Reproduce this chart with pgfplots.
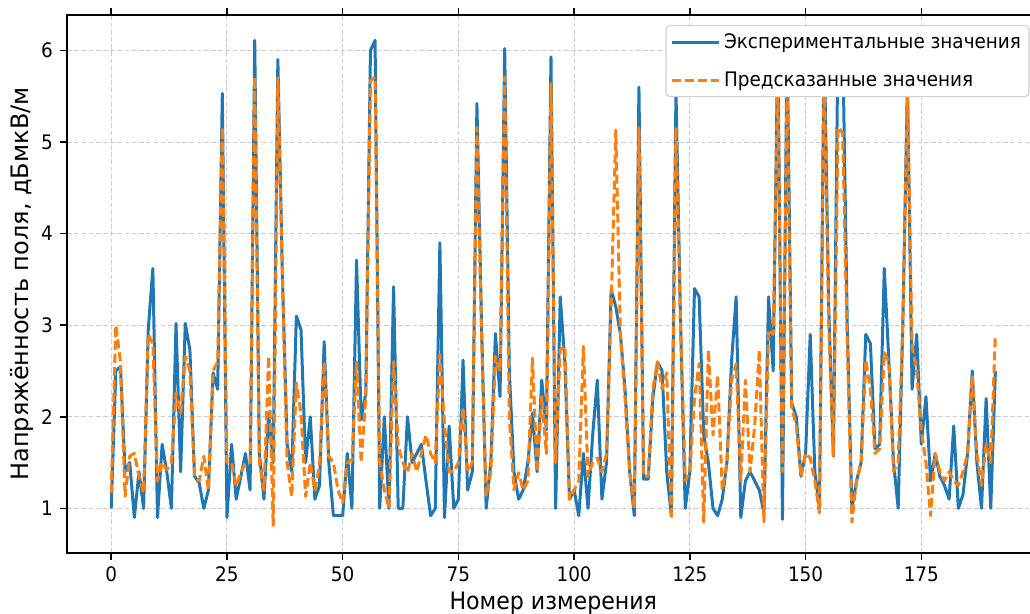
\documentclass[border=0pt]{standalone}
\usepackage{fontspec}
\setmainfont[FakeStretch=0.92]{DejaVu Sans}
\newfontfamily\ylabfont{DejaVu Sans}
\usepackage{pgfplots}
\usepackage{pgfplotstable}
\pgfplotsset{compat=1.18}
\definecolor{mplblue}{HTML}{1F77B4}
\definecolor{mplorange}{HTML}{FF7F0E}

\pgfplotstableread{
x b o
0 1.0 1.17
1 2.5 3.0
2 2.55 2.6
3 1.4 1.13
4 1.5 1.57
5 0.9 1.6
6 1.4 1.35
7 1.0 1.17
8 2.95 2.9
9 3.62 2.8
10 0.9 1.3
11 1.7 1.5
12 1.4 1.42
13 1.0 1.5
14 3.02 2.26
15 1.4 2.04
16 3.02 2.66
17 2.73 2.5
18 1.35 1.35
19 1.28 1.3
20 1.0 1.57
21 1.2 1.2
22 2.48 2.5
23 2.3 2.6
24 5.53 5.16
25 0.9 1.5
26 1.7 1.5
27 1.1 1.24
28 1.35 1.39
29 1.6 1.5
30 1.2 1.5
31 6.11 5.71
32 1.6 1.5
33 1.1 1.2
34 2.04 2.66
35 1.5 0.8
36 5.9 5.7
37 3.5 3.5
38 1.7 1.5
39 1.4 1.13
40 3.1 2.37
41 2.95 2.04
42 1.5 1.13
43 2.0 1.5
44 1.1 1.2
45 1.25 1.46
46 2.82 2.6
47 1.5 1.57
48 0.92 1.5
49 0.92 1.2
50 0.92 1.06
51 1.6 1.5
52 1.0 1.53
53 3.71 2.6
54 1.97 1.5
55 2.26 2.22
56 6.0 5.67
57 6.11 5.71
58 1.0 1.5
59 2.0 1.2
60 1.0 1.0
61 3.42 2.6
62 1.0 1.68
63 1.0 1.5
64 2.0 1.39
65 1.5 1.6
66 1.6 1.4
67 1.7 1.6
68 1.3 1.8
69 0.92 1.6
70 1.0 1.5
71 3.9 2.68
72 0.9 1.9
73 1.9 1.4
74 1.0 1.4
75 1.1 1.5
76 2.62 2.1
77 1.2 1.4
78 1.4 1.5
79 5.42 5.16
80 3.0 2.9
81 1.0 1.13
82 1.5 1.4
83 2.91 2.66
84 2.22 2.5
85 6.02 5.71
86 2.5 2.0
87 1.4 1.2
88 1.1 1.39
89 1.2 1.2
90 1.5 1.3
91 2.04 2.64
92 1.4 1.4
93 2.4 2.22
94 1.86 1.6
95 5.93 5.64
96 1.0 1.5
97 3.31 2.73
98 2.6 2.77
99 1.1 1.1
100 1.2 1.2
101 0.92 1.3
102 1.6 2.77
103 1.0 1.35
104 1.8 1.5
105 2.4 1.55
106 1.1 1.4
107 1.5 1.6
108 3.39 3.2
109 3.2 5.13
110 2.9 2.9
111 2.3 2.2
112 1.4 1.4
113 0.92 1.0
114 5.6 5.16
115 1.32 1.35
116 1.32 1.35
117 2.2 2.3
118 2.6 2.6
119 2.5 2.3
120 1.4 2.48
121 0.92 0.88
122 5.56 5.16
123 3.0 3.0
124 1.0 1.3
125 1.4 1.4
126 3.4 2.2
127 3.31 2.58
128 1.8 0.85
129 1.5 2.73
130 1.0 1.8
131 0.92 2.45
132 1.1 1.2
133 1.5 1.5
134 2.6 2.4
135 3.31 2.58
136 0.9 1.3
137 1.3 2.4
138 1.4 1.4
139 1.3 1.9
140 1.2 2.73
141 0.95 0.85
142 3.31 2.95
143 2.5 2.9
144 6.15 5.7
145 0.88 1.4
146 6.15 5.6
147 2.15 2.1
148 2.0 1.9
149 1.35 1.35
150 1.6 1.6
151 2.9 1.55
152 1.4 1.3
153 1.0 0.95
154 6.15 5.8
155 3.2 3.0
156 1.57 1.57
157 6.15 5.16
158 6.15 5.1
159 3.0 2.8
160 1.0 0.85
161 1.3 1.3
162 1.5 1.5
163 2.9 2.62
164 2.8 2.3
165 1.65 1.6
166 1.7 1.65
167 3.62 2.7
168 2.6 2.6
169 1.5 1.4
170 1.0 1.5
171 3.0 3.0
172 5.65 5.55
173 2.3 2.77
174 2.9 2.5
175 1.7 1.85
176 2.22 1.5
177 1.3 0.92
178 1.6 1.6
179 1.35 1.4
180 1.25 1.3
181 1.1 1.4
182 1.9 1.3
183 1.0 1.25
184 1.15 1.4
185 1.6 1.6
186 2.5 2.45
187 1.5 1.6
188 1.0 1.25
189 2.2 1.7
190 1.0 1.5
191 2.5 2.9
}\datatable

\begin{document}
\begin{tikzpicture}
\useasboundingbox (-33.5pt,-30.5pt) rectangle (481.5pt,276.5pt);
\begin{axis}[
  scale only axis,
  width=486.3pt, height=269pt,
  xmin=-9.55, xmax=200.55,
  ymin=0.513, ymax=6.387,
  xtick={0,25,...,175}, ytick={1,2,3,4,5,6},
  tick align=outside, major tick length=3.5pt,
  tick style={black, line width=0.8pt},
  axis line style={black, line width=0.8pt},
  grid=major,
  grid style={gray!40, line width=0.5pt, dash pattern=on 2.4pt off 1.2pt},
  ticklabel style={font=\fontsize{10}{12}\selectfont},
  /pgf/number format/assume math mode=true,
  xlabel={Номер измерения},
  ylabel={Напряжённость поля, дБмкВ/м},
  xlabel style={font=\fontsize{12}{14.4}\selectfont, at={(axis description cs:0.5,-0.0929)}, anchor=center},
  ylabel style={font=\ylabfont\fontsize{12}{14.4}\selectfont, at={(axis description cs:-0.0463,0.5)}, anchor=center},
  no markers,
  legend cell align=left,
  legend image code/.code={\draw[#1] (0pt,0pt) -- (20pt,0pt); \path (0pt,0pt) -- (23.5pt,0pt);},
  legend style={at={(rel axis cs:1,1)}, anchor=north east, xshift=-5pt, yshift=-5pt,
    draw=gray!35, fill=white, line width=0.6pt,
    rounded corners=2pt, font=\fontsize{10}{12}\selectfont, row sep=6.2pt,
    inner xsep=2pt, inner ysep=1.8pt, nodes={inner sep=2pt}},
]
\addplot[mplblue, line width=1.5pt, line join=round] table[x=x, y=b]{\datatable};
\addplot[mplorange, line width=1.5pt, line join=round, dash pattern=on 4.5pt off 2pt] table[x=x, y=o]{\datatable};
\legend{Экспериментальные значения, Предсказанные значения}
\end{axis}
\end{tikzpicture}
\end{document}
